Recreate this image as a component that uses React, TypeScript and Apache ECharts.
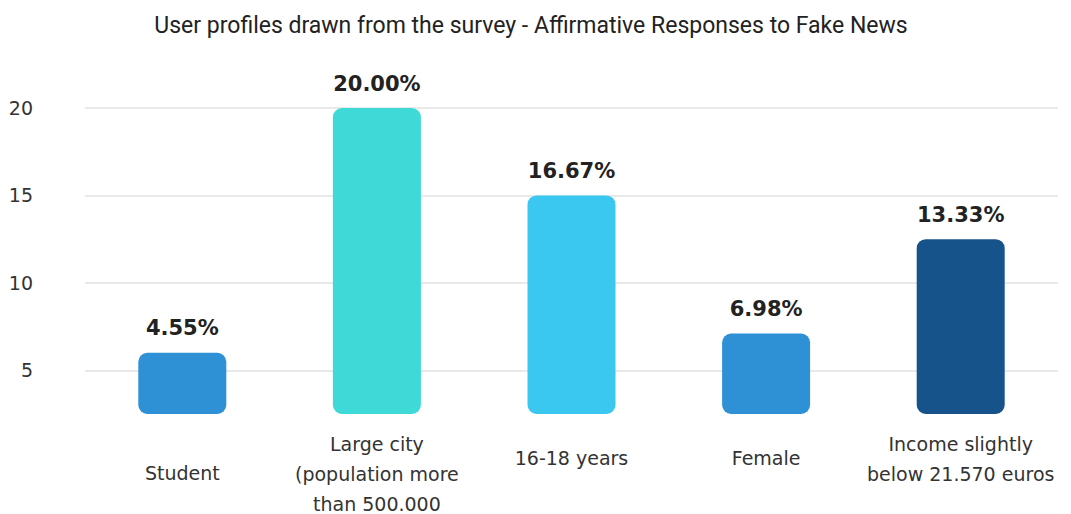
import React, { useEffect, useRef } from "react";
import * as echarts from "echarts";

const titleText = "User profiles drawn from the survey - Affirmative Responses to Fake News";
const categories = [
  "Student",
  "Large city\n(population more\nthan 500.000",
  "16-18 years",
  "Female",
  "Income slightly\nbelow 21.570 euros",
];
const barValues = [6, 20, 15, 7.1, 12.5];
const valueLabels = ["4.55%", "20.00%", "16.67%", "6.98%", "13.33%"];
const barColors = ["#2E91D6", "#3FDAD8", "#3AC8F0", "#2E91D6", "#16538A"];
const categoryLineHeights = [88, 30, 58, 58, 30];
const yTicks = [5, 10, 15, 20];

export default function App() {
  const ref = useRef<HTMLDivElement>(null);
  useEffect(() => {
    document.body.style.margin = "0";
    const chart = echarts.init(ref.current!, null, { renderer: "svg" });
    chart.setOption({
      animation: false,
      backgroundColor: "#ffffff",
      title: {
        text: titleText,
        left: 526,
        textAlign: "center",
        top: 9,
        textStyle: {
          fontFamily: "Roboto",
          fontWeight: "normal",
          fontSize: 23,
          color: "#222222",
        },
      },
      grid: { left: 85, right: 13, top: 108, bottom: 100, outerBoundsMode: "none", containLabel: false },
      xAxis: {
        type: "category",
        data: categories.map((c, i) => ({
          value: c,
          textStyle: { lineHeight: categoryLineHeights[i] },
        })),
        axisLine: { show: false },
        axisTick: { show: false },
        axisLabel: {
          margin: 15,
          fontFamily: "DejaVu Sans",
          fontSize: 19,
          color: "#333333",
          lineHeight: 30,
          interval: 0,
        },
      },
      yAxis: {
        type: "value",
        min: 2.5,
        max: 20,
        interval: 2.5,
        axisLine: { show: false },
        axisTick: { show: false },
        axisLabel: {
          margin: 52,
          fontFamily: "DejaVu Sans",
          fontSize: 19,
          color: "#333333",
          formatter: (v: number) => (yTicks.includes(v) ? String(v) : ""),
        },
        splitLine: {
          lineStyle: { color: ["rgba(0,0,0,0)", "#e2e2e2"], width: 1.5 },
        },
      },
      series: [
        {
          type: "bar",
          barWidth: 88,
          data: barValues.map((v, i) => ({
            value: v,
            itemStyle: { color: barColors[i], borderRadius: 9 },
            label: {
              show: true,
              position: "top",
              distance: 14,
              formatter: valueLabels[i],
              fontFamily: "DejaVu Sans",
              fontWeight: "bold",
              fontSize: 21,
              color: "#222222",
            },
          })),
        },
      ],
    });
    return () => chart.dispose();
  }, []);
  return <div ref={ref} style={{ width: 1071, height: 514 }} />;
}
